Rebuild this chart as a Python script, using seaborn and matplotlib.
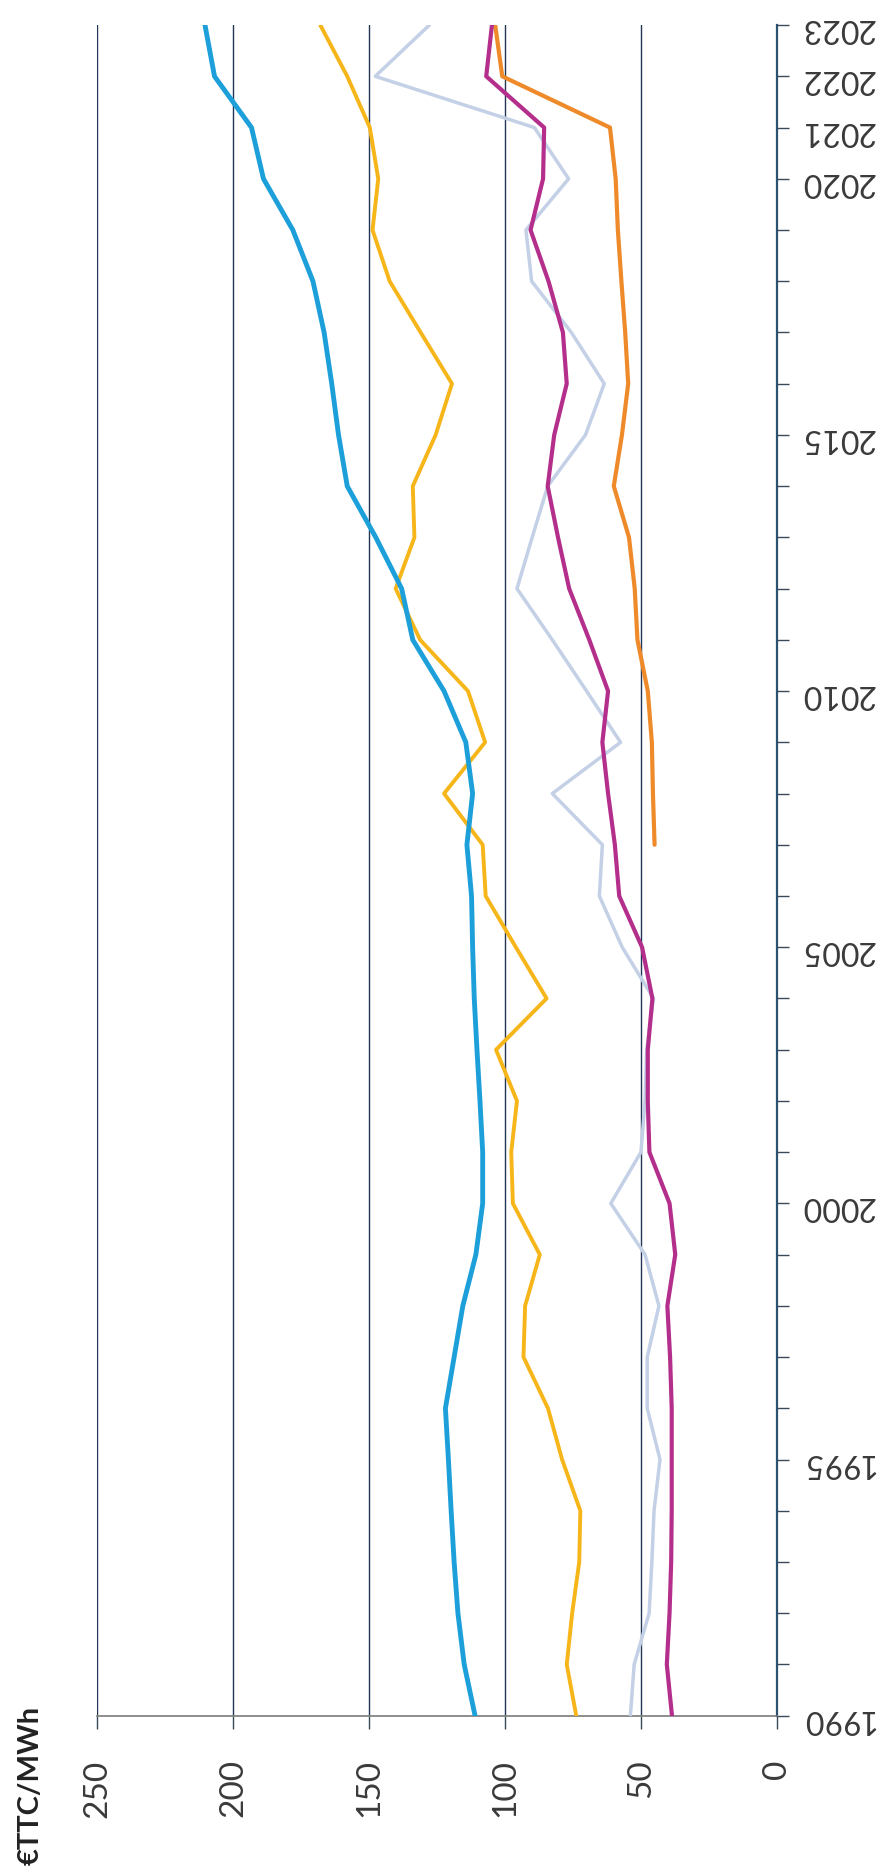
import numpy as np
import pandas as pd
import matplotlib
matplotlib.use("Agg")
import matplotlib.pyplot as plt
import seaborn as sns

# Yearly prices, €TTC/MWh
years = list(range(1990, 2024))

blue_series = [111.0, 115.0, 117.3, 118.7, 119.8, 120.8, 121.9, 118.7, 115.5, 110.7,
               108.2, 108.2, 109.2, 110.3, 111.3, 111.9, 112.3, 114.0, 111.9, 114.4,
               122.4, 133.9, 138.0, 147.5, 158.0, 161.2, 163.7, 166.5, 170.6, 178.0,
               188.8, 193.2, 206.8, 210.3]

yellow_series = [73.8, 77.3, 75.3, 72.7, 72.3, 79.0, 84.2, 93.2, 92.6, 87.2,
                 97.1, 97.7, 95.6, 103.3, 84.7, 96.0, 107.1, 108.2, 122.4, 107.3,
                 113.6, 131.2, 140.2, 133.3, 133.9, 125.5, 119.5, 131.0, 142.4, 148.7,
                 146.6, 149.7, 158.0, 167.9]

grey_series = [53.9, 52.5, 47.0, 46.0, 45.2, 43.0, 47.7, 47.7, 43.4, 48.5,
               61.1, 50.0, 48.5, 47.9, 45.4, 56.9, 65.3, 64.2, 82.6, 57.5,
               70.0, 82.6, 95.6, 90.0, 84.3, 70.4, 63.5, 75.6, 90.2, 92.3,
               76.6, 89.2, 147.7, 127.8]

magenta_series = [38.6, 40.5, 39.5, 38.9, 38.7, 38.7, 38.7, 39.3, 40.3, 37.4,
                  39.5, 46.9, 47.5, 47.5, 45.8, 49.6, 58.0, 59.6, 62.1, 64.2,
                  62.1, 69.0, 76.4, 80.5, 84.3, 81.9, 77.3, 78.7, 84.0, 90.6,
                  86.0, 85.6, 106.9, 104.8]

orange_years = list(range(2007, 2024))
orange_series = [45.0, 45.6, 46.0, 47.5, 51.3, 52.3, 54.4, 60.0, 57.0, 54.7,
                 55.8, 57.2, 58.5, 59.3, 61.4, 101.0, 103.6]

value_ticks = [0, 50, 100, 150, 200, 250]
labelled_years = [1990, 1995, 2000, 2005, 2010, 2015, 2020, 2021, 2022, 2023]
unit_label = "€TTC/MWh"

sns.set_theme(style="white")
plt.rcParams["font.family"] = ["Lato", "DejaVu Sans"]

fig = plt.figure(figsize=(8.9, 18.72), dpi=100)
ax = fig.add_axes([0.109, 0.0835, 0.764, 0.9031])

series = [
    (grey_series, years, "#c3d0e6", 2.5),
    (orange_series, orange_years, "#ef8a2b", 3.0),
    (magenta_series, years, "#b42f8c", 3.0),
    (yellow_series, years, "#f6b61a", 2.8),
    (blue_series, years, "#1d9fda", 3.5),
]
for vals, yrs, col, lw in series:
    df = pd.DataFrame({"value": vals, "year": yrs})
    sns.lineplot(data=df, x="value", y="year", orient="y", sort=True,
                 estimator=None, color=col, lw=lw, ax=ax, zorder=3)

# Value axis runs right-to-left, years run bottom-to-top
ax.set_xlim(250, 0)
ax.set_ylim(1990, 2023)
ax.set_xlabel("")
ax.set_ylabel("")

ax.set_xticks(value_ticks)
ax.set_xticklabels([str(v) for v in value_ticks])
ax.xaxis.grid(True, color="#1f3656", lw=1.0)
ax.yaxis.grid(False)
ax.set_axisbelow(True)

ax.yaxis.tick_right()
ax.set_yticks(years)
ax.set_yticklabels([str(y) if y in labelled_years else "" for y in years])

for side in ("left", "top"):
    ax.spines[side].set_visible(False)
ax.spines["right"].set_color("#2c5272")
ax.spines["right"].set_linewidth(1.6)
ax.spines["bottom"].set_color("#7a7a7a")
ax.spines["bottom"].set_linewidth(1.2)

ax.tick_params(axis="x", bottom=True, direction="out", length=9.5, width=1.0,
               color="#3a4a5a", labelsize=24, labelcolor="#3a3a3a",
               labelrotation=90, pad=22)
ax.tick_params(axis="y", right=True, left=False, direction="out", length=8.5,
               width=1.0, color="#3a4a5a", labelsize=23, labelcolor="#3a3a3a",
               labelrotation=180, pad=8)

fig.text(0.034, 0.004, unit_label, rotation=90, fontsize=21, fontweight="bold",
         color="#222222", ha="center", va="bottom")

fig.savefig("out.png", dpi=100, facecolor="white")
